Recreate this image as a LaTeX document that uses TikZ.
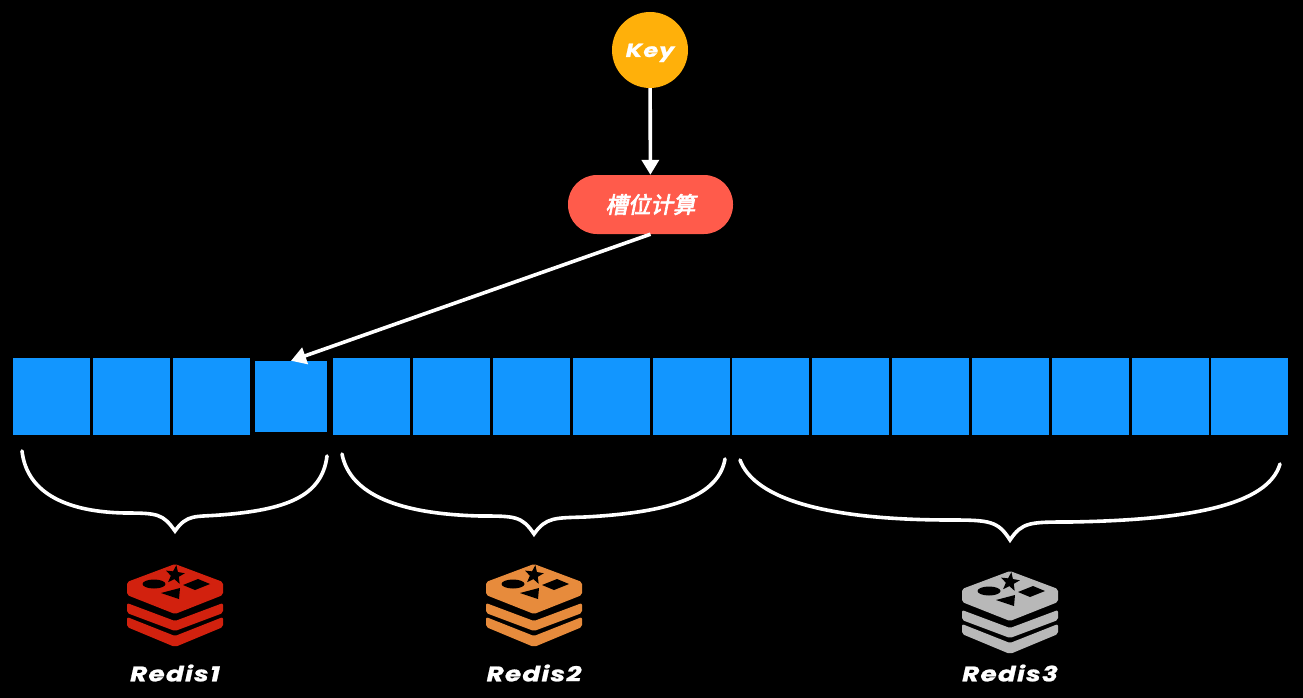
\documentclass[tikz,border=0pt]{standalone}
\usepackage{fontspec}
\usepackage{tikz}
\usetikzlibrary{arrows.meta,shapes.geometric}
\setmainfont{Poppins}
\newfontfamily\labelfont[LetterSpace=6,FakeStretch=1.25,FakeBold=1]{Poppins Bold Italic}
\newfontfamily\cjk[FakeSlant=0.2,FakeBold=3]{Noto Sans CJK SC}
\definecolor{slotblue}{HTML}{1296FF}
\definecolor{keyyellow}{HTML}{FFB00A}
\definecolor{calcred}{HTML}{FF5B4B}
\definecolor{logored}{HTML}{D2210E}
\definecolor{logoorange}{HTML}{E78B3C}
\definecolor{logogray}{HTML}{B8B8B8}
\tikzset{
    slot/.style={fill=slotblue, minimum size=77, inner sep=0pt},
    flow/.style={draw=white, line width=3.6, -{Triangle[width=17, length=15]}},
    bracket/.style={draw=white, line width=3.6, line cap=round},
    logotext/.style={text=white, font=\labelfont\fontsize{21}{25}\selectfont},
    redislogo/.pic={
        % three layers
        \fill[pic actions, rounded corners=2] (0, -42) -- (48, -24) -- (48, -11)
            -- (0, 8) -- (-48, -11) -- (-48, -24) -- cycle;
        \fill[pic actions, rounded corners=2] (-48, -3) -- (0, 15) -- (48, -3)
            -- (48, 7) -- (0, 25) -- (-48, 7) -- cycle;
        \fill[pic actions, rounded corners=2] (-48, 11) -- (0, 30) -- (48, 11)
            -- (48, 21) -- (0, 41) -- (-48, 21) -- cycle;
        % shapes on the top layer
        \fill[black] (-21, -22) ellipse (11.5 and 4.5);
        \fill[black] (8, -21) -- (23, -27) -- (35, -22) -- (20, -16) -- cycle;
        \fill[black] (-14, -13) -- (5, -18) -- (4, -7) -- cycle;
        \node[star, star points=5, star point ratio=2.4, fill=black, inner sep=0pt,
            minimum size=20, shape border rotate=-8] (mark) at (0, -31) {};
    },
}

\begin{document}
\begin{tikzpicture}[x=1pt, y=-1pt]
    \fill[black] (0, 0) rectangle (1303, 698);
    \useasboundingbox (0, 0) rectangle (1303, 698);

    % nodes key, calc
    \node[circle, fill=keyyellow, minimum size=76, inner sep=0pt, logotext,
        font=\labelfont\fontsize{19}{23}\selectfont] (key) at (650, 50)
        {\raisebox{-7pt}[0pt][0pt]{Key}};
    \node[fill=calcred, rounded corners=29, minimum width=165, minimum height=59,
        inner sep=0pt, text=white, font=\cjk\fontsize{22.5}{26}\selectfont]
        (calc) at (650.5, 204.5) {槽位计算};

    % slots
    \foreach \n/\xpos in {1/51.5, 2/131.3, 3/211.2, 5/371.3, 6/451.2, 7/531,
        8/611, 9/691, 10/770.5, 11/850.3, 12/930.3, 13/1010.3, 14/1090.3,
        15/1170, 16/1249.7}
        \node[slot] (slot\n) at (\xpos, 396.5) {};
    \node[slot, minimum width=72, minimum height=71] (slot4) at (291, 396.5) {};

    % edges
    \draw[flow] (key) to (calc);
    \draw[flow] (calc.south) to (slot4.north);

    % brackets
    \draw[bracket] (22, 451) .. controls (27, 495) and (70, 512) .. (125, 513)
        .. controls (158, 513) and (163, 514) .. (175, 531)
        .. controls (187, 514) and (195, 517) .. (220, 515)
        .. controls (285, 510) and (322, 497) .. (327, 456);
    \draw[bracket] (342, 454) .. controls (350, 495) and (400, 514) .. (480, 516)
        .. controls (515, 516) and (522, 516) .. (534, 534)
        .. controls (546, 517) and (555, 518) .. (585, 517)
        .. controls (660, 513) and (718, 500) .. (725, 459);
    \draw[bracket] (740, 460) .. controls (755, 500) and (830, 520) .. (950, 520)
        .. controls (990, 520) and (998, 521) .. (1010, 540)
        .. controls (1022, 522) and (1030, 522) .. (1070, 522)
        .. controls (1190, 520) and (1268, 505) .. (1280, 464);

    % logos and their names
    \pic[fill=logored] (logoa) at (175, 606) {redislogo};
    \pic[fill=logoorange] (logob) at (534, 606) {redislogo};
    \pic[fill=logogray] (logoc) at (1010, 613) {redislogo};
    \node[logotext] (namea) at (175, 673) {Redis1};
    \node[logotext] (nameb) at (534, 673) {Redis2};
    \node[logotext] (namec) at (1010, 673) {Redis3};
\end{tikzpicture}
\end{document}
